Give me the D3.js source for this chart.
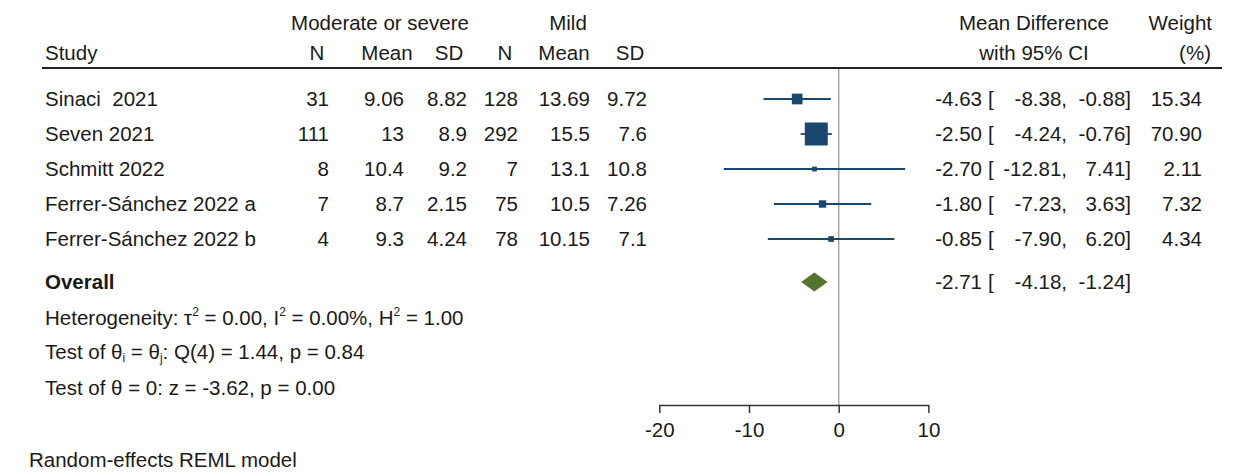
<!DOCTYPE html>
<html>
<head>
<meta charset="utf-8">
<script src="https://cdn.jsdelivr.net/npm/d3@7"></script>
<style>
  html, body { margin: 0; padding: 0; background: #fff; }
  svg { display: block; }
  text { font-family: "Liberation Sans", Arial, Helvetica, sans-serif; font-size: 20.5px; fill: #1a1a1a; white-space: pre; }
</style>
</head>
<body>
<svg id="chart" width="1234" height="472"></svg>
<script>
// ---------- data ----------
const studies   = ["Sinaci  2021", "Seven 2021", "Schmitt 2022", "Ferrer-Sánchez 2022 a", "Ferrer-Sánchez 2022 b"];
const modN      = ["31", "111", "8", "7", "4"];
const modMean   = ["9.06", "13", "10.4", "8.7", "9.3"];
const modSD     = ["8.82", "8.9", "9.2", "2.15", "4.24"];
const mildN     = ["128", "292", "7", "75", "78"];
const mildMean  = ["13.69", "15.5", "13.1", "10.5", "10.15"];
const mildSD    = ["9.72", "7.6", "10.8", "7.26", "7.1"];
const md        = [-4.63, -2.50, -2.70, -1.80, -0.85];
const ciLow     = [-8.38, -4.24, -12.81, -7.23, -7.90];
const ciHigh    = [-0.88, -0.76, 7.41, 3.63, 6.20];
const weights   = [15.34, 70.90, 2.11, 7.32, 4.34];
const overallMD   = -2.71;
const overallLow  = -4.18;
const overallHigh = -1.24;
const xTicks    = [-20, -10, 0, 10];

// ---------- layout ----------
const svg = d3.select("#chart");
const x = d3.scaleLinear().domain([-20, 10]).range([659.3, 928.4]);
const rowY = d3.scalePoint().domain(d3.range(studies.length)).range([99, 239]);
const side = d3.scaleSqrt().domain([0, d3.max(weights)]).range([0, 23]);
const navy = "#1a476f", green = "#55752f";
const overallY = 282, axisY = 405, ruleY = 68;

// headers
const hdr = svg.append("g");
hdr.append("text").attr("x", 380).attr("y", 30).attr("text-anchor", "middle").text("Moderate or severe");
hdr.append("text").attr("x", 568).attr("y", 30).attr("text-anchor", "middle").text("Mild");
hdr.append("text").attr("x", 1034).attr("y", 30).attr("text-anchor", "middle").text("Mean Difference");
hdr.append("text").attr("x", 1212).attr("y", 30).attr("text-anchor", "end").text("Weight");
hdr.append("text").attr("x", 45).attr("y", 60).text("Study");
[[317, "N"], [387, "Mean"], [449, "SD"], [505, "N"], [564, "Mean"], [630, "SD"]].forEach(([cx, t]) =>
  hdr.append("text").attr("x", cx).attr("y", 60).attr("text-anchor", "middle").text(t));
hdr.append("text").attr("x", 1034).attr("y", 60).attr("text-anchor", "middle").text("with 95% CI");
hdr.append("text").attr("x", 1211).attr("y", 60).attr("text-anchor", "end").text("(%)");

svg.append("line").attr("x1", 42).attr("x2", 1222).attr("y1", ruleY).attr("y2", ruleY)
  .attr("stroke", "#222").attr("stroke-width", 2);

// zero line
svg.append("line").attr("x1", x(0)).attr("x2", x(0)).attr("y1", ruleY + 1).attr("y2", axisY)
  .attr("stroke", "#a6a6a6").attr("stroke-width", 1.5);

// table columns
const cols = [
  [studies, 45, "start"], [modN, 329, "end"], [modMean, 404, "end"], [modSD, 467, "end"],
  [mildN, 518, "end"], [mildMean, 590, "end"], [mildSD, 647, "end"]
];
cols.forEach(([arr, cx, anchor]) => {
  svg.append("g").selectAll("text").data(arr).join("text")
    .attr("x", cx).attr("y", (d, i) => rowY(i) + 7).attr("text-anchor", anchor).text(d => d);
});

// effect text
function effectText(g, y, est, lo, hi, w) {
  g.append("text").attr("x", 982).attr("y", y).attr("text-anchor", "end").text(est.toFixed(2));
  g.append("text").attr("x", 988).attr("y", y).text("[");
  g.append("text").attr("x", 1067).attr("y", y).attr("text-anchor", "end").text(lo.toFixed(2) + ",");
  g.append("text").attr("x", 1131).attr("y", y).attr("text-anchor", "end").text(hi.toFixed(2) + "]");
  if (w !== null) g.append("text").attr("x", 1202).attr("y", y).attr("text-anchor", "end").text(w.toFixed(2));
}
const eg = svg.append("g");
md.forEach((d, i) => effectText(eg, rowY(i) + 7, d, ciLow[i], ciHigh[i], weights[i]));
effectText(eg, overallY + 7, overallMD, overallLow, overallHigh, null);

// CI lines and squares
const marks = svg.append("g");
marks.selectAll("line.ci").data(md).join("line").attr("class", "ci")
  .attr("x1", (d, i) => x(ciLow[i])).attr("x2", (d, i) => x(ciHigh[i]))
  .attr("y1", (d, i) => rowY(i)).attr("y2", (d, i) => rowY(i))
  .attr("stroke", navy).attr("stroke-width", 1.8);
marks.selectAll("rect").data(md).join("rect")
  .attr("x", (d, i) => x(d) - Math.max(side(weights[i]), 4.8) / 2)
  .attr("y", (d, i) => rowY(i) - Math.max(side(weights[i]), 4.8) / 2)
  .attr("width", (d, i) => Math.max(side(weights[i]), 4.8))
  .attr("height", (d, i) => Math.max(side(weights[i]), 4.8))
  .attr("fill", navy);

// overall diamond
const dh = 9.5;
svg.append("path")
  .attr("d", `M${x(overallLow)},${overallY} L${x(overallMD)},${overallY - dh} L${x(overallHigh)},${overallY} L${x(overallMD)},${overallY + dh} Z`)
  .attr("fill", green);

// overall text + stats
svg.append("text").attr("x", 45).attr("y", overallY + 7).attr("font-weight", "bold").text("Overall");

const het = svg.append("text").attr("x", 45).attr("y", 325);
het.append("tspan").text("Heterogeneity: τ");
het.append("tspan").attr("font-size", 12).attr("dy", -9).text("2");
het.append("tspan").attr("dy", 9).text(" = 0.00, I");
het.append("tspan").attr("font-size", 12).attr("dy", -9).text("2");
het.append("tspan").attr("dy", 9).text(" = 0.00%, H");
het.append("tspan").attr("font-size", 12).attr("dy", -9).text("2");
het.append("tspan").attr("dy", 9).text(" = 1.00");

const t1 = svg.append("text").attr("x", 45).attr("y", 359);
t1.append("tspan").text("Test of θ");
t1.append("tspan").attr("font-size", 12).attr("dy", 3).text("i");
t1.append("tspan").attr("dy", -3).text(" = θ");
t1.append("tspan").attr("font-size", 12).attr("dy", 3).text("j");
t1.append("tspan").attr("dy", -3).text(": Q(4) = 1.44, p = 0.84");

svg.append("text").attr("x", 45).attr("y", 395).text("Test of θ = 0: z = -3.62, p = 0.00");
svg.append("text").attr("x", 29).attr("y", 467).text("Random-effects REML model");

// axis
const axis = svg.append("g").attr("transform", `translate(0,${axisY})`)
  .call(d3.axisBottom(x).tickValues(xTicks).tickFormat(d => String(d)).tickSize(8).tickPadding(9).tickSizeOuter(0));
axis.select(".domain").attr("stroke", "#333").attr("stroke-width", 1.5);
axis.selectAll(".tick line").attr("stroke", "#333").attr("stroke-width", 1.5);
axis.selectAll(".tick text").style("font-size", "20.5px").attr("fill", "#1a1a1a")
  .style("font-family", '"Liberation Sans", Arial, sans-serif');
</script>
</body>
</html>
